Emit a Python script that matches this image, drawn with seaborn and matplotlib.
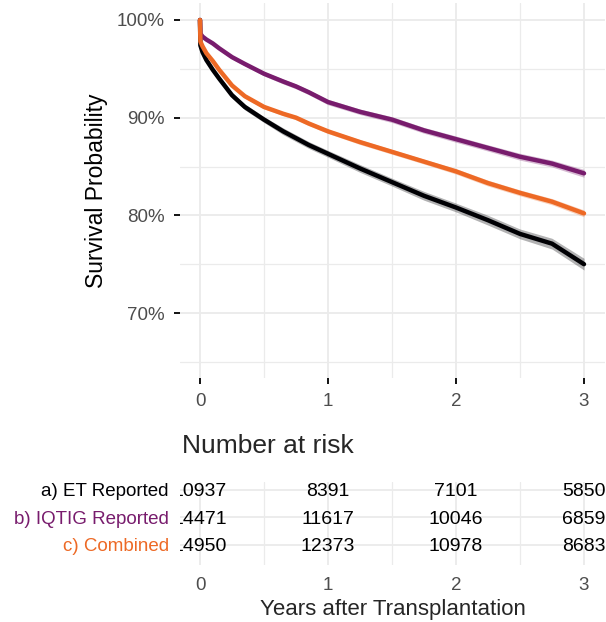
import numpy as np
import pandas as pd
import matplotlib
matplotlib.use("Agg")
import matplotlib.pyplot as plt
from matplotlib.ticker import FixedLocator
from matplotlib.transforms import Bbox, TransformedBbox
import seaborn as sns

# survival curves (years, survival %)
years = [0, 0.003, 0.02, 0.05, 0.1, 0.15, 0.25, 0.35, 0.5, 0.65, 0.75, 0.85, 1.0,
         1.25, 1.5, 1.75, 2.0, 2.25, 2.5, 2.75, 3.0]
surv_et = [100, 97.4, 96.7, 95.9, 94.9, 94.0, 92.3, 91.1, 89.8, 88.6, 87.9, 87.2, 86.3,
           84.8, 83.4, 82.0, 80.8, 79.5, 78.1, 77.1, 75.0]
surv_iqtig = [100, 98.6, 98.3, 98.0, 97.6, 97.1, 96.2, 95.5, 94.5, 93.7, 93.2, 92.6, 91.6,
              90.6, 89.8, 88.7, 87.8, 86.9, 86.0, 85.3, 84.3]
surv_comb = [100, 97.8, 97.3, 96.6, 95.8, 94.9, 93.3, 92.2, 91.1, 90.4, 90.0, 89.4, 88.6,
             87.5, 86.5, 85.5, 84.5, 83.3, 82.3, 81.4, 80.2]
# half width of the confidence band (%)
ci_et = [0, 0.15, 0.2, 0.2, 0.25, 0.25, 0.3, 0.3, 0.3, 0.35, 0.35, 0.35, 0.35,
         0.4, 0.4, 0.45, 0.45, 0.5, 0.5, 0.55, 0.6]
ci_iqtig = [0, 0.1, 0.12, 0.15, 0.15, 0.18, 0.2, 0.2, 0.22, 0.25, 0.25, 0.25, 0.28,
            0.28, 0.3, 0.3, 0.32, 0.32, 0.35, 0.35, 0.4]
ci_comb = [0, 0.1, 0.12, 0.15, 0.15, 0.18, 0.2, 0.2, 0.2, 0.2, 0.22, 0.22, 0.22,
           0.25, 0.25, 0.25, 0.28, 0.3, 0.3, 0.32, 0.35]

groups = ["a) ET Reported", "b) IQTIG Reported", "c) Combined"]
colors = ["#000004", "#781C6D", "#ED6925"]

# number at risk
risk_times = [0, 1, 2, 3]
risk_et = [10937, 8391, 7101, 5850]
risk_iqtig = [14471, 11617, 10046, 6859]
risk_comb = [14950, 12373, 10978, 8683]

sns.set_theme(style="white")
plt.rcParams["font.family"] = ["Liberation Sans", "DejaVu Sans"]

W, H = 606, 622
fig = plt.figure(figsize=(W / 100, H / 100), dpi=100)
left = 180 / W
width = (605 - 180) / W
ax1 = fig.add_axes([left, 1 - 378 / H, width, 375 / H])
ax2 = fig.add_axes([left, 1 - 565 / H, width, 83 / H])

grid_major = "#EBEBEB"
tick_grey = "#4D4D4D"

frames = []
for g, s, c in zip(groups, [surv_et, surv_iqtig, surv_comb], [ci_et, ci_iqtig, ci_comb]):
    frames.append(pd.DataFrame({"years": years, "survival": s, "ci": c, "group": g}))
df = pd.concat(frames, ignore_index=True)

for g, col in zip(groups, colors):
    d = df[df["group"] == g]
    ax1.fill_between(d["years"], d["survival"] - d["ci"], d["survival"] + d["ci"],
                     color=col, alpha=0.3, lw=0, zorder=2)

sns.lineplot(data=df, x="years", y="survival", hue="group", hue_order=groups,
             palette=colors, errorbar=None, linewidth=3.2, legend=False,
             sort=False, ax=ax1, zorder=3)

xlim = (-20 / 128, 3 + 21 / 128)
ax1.set_xlim(*xlim)
ax1.set_ylim(100 - 358 / 9.767, 100 + 17 / 9.767)
ax1.xaxis.set_major_locator(FixedLocator([0, 1, 2, 3]))
ax1.xaxis.set_minor_locator(FixedLocator([0.5, 1.5, 2.5]))
ax1.yaxis.set_major_locator(FixedLocator([70, 80, 90, 100]))
ax1.yaxis.set_minor_locator(FixedLocator([65, 75, 85, 95]))
ax1.set_yticklabels(["70%", "80%", "90%", "100%"])
ax1.grid(which="major", color=grid_major, lw=1.3)
ax1.grid(which="minor", color=grid_major, lw=0.9)
ax1.set_axisbelow(True)
for sp in ax1.spines.values():
    sp.set_visible(False)
ax1.tick_params(which="major", length=4, width=1.3, color="black", pad=7,
                labelsize=13.5, labelcolor=tick_grey, left=True, bottom=True)
ax1.tick_params(which="minor", length=0)
ax1.set_xlabel("")
ax1.set_ylabel("Survival Probability", fontsize=16.5, color="black")
ax1.yaxis.set_label_coords(-0.17, 0.5)

# risk table, clipped only at the left edge of the panel
clip = TransformedBbox(Bbox([[0, -1], [1.1, 2]]), ax2.transAxes)
rows = [3, 2, 1]
for y, vals in zip(rows, [risk_et, risk_iqtig, risk_comb]):
    for t, v in zip(risk_times, vals):
        txt = ax2.text(t, y, str(v), ha="center", va="center_baseline", fontsize=14,
                       color="black")
        txt.set_clip_box(clip)
        txt.set_clip_on(True)

ax2.set_xlim(*xlim)
ax2.set_ylim(0.27, 3.29)
ax2.xaxis.set_major_locator(FixedLocator([0, 1, 2, 3]))
ax2.xaxis.set_minor_locator(FixedLocator([0.5, 1.5, 2.5]))
ax2.yaxis.set_major_locator(FixedLocator(rows))
ax2.set_yticklabels(groups)
for lab, col in zip(ax2.get_yticklabels(), colors):
    lab.set_color(col)
ax2.grid(which="major", color=grid_major, lw=1.3)
ax2.grid(which="minor", axis="x", color=grid_major, lw=0.9)
ax2.set_axisbelow(True)
for sp in ax2.spines.values():
    sp.set_visible(False)
ax2.tick_params(axis="y", length=0, pad=8, labelsize=13.5)
ax2.tick_params(axis="x", length=0, pad=9, labelsize=13.5, labelcolor=tick_grey)
ax2.tick_params(which="minor", length=0)
ax2.set_xlabel("Years after Transplantation", fontsize=16, labelpad=3)
ax2.set_ylabel("")

fig.text(182 / W, 1 - 453 / H, "Number at risk", fontsize=19, ha="left", va="baseline")

fig.savefig("out.png", dpi=100)
